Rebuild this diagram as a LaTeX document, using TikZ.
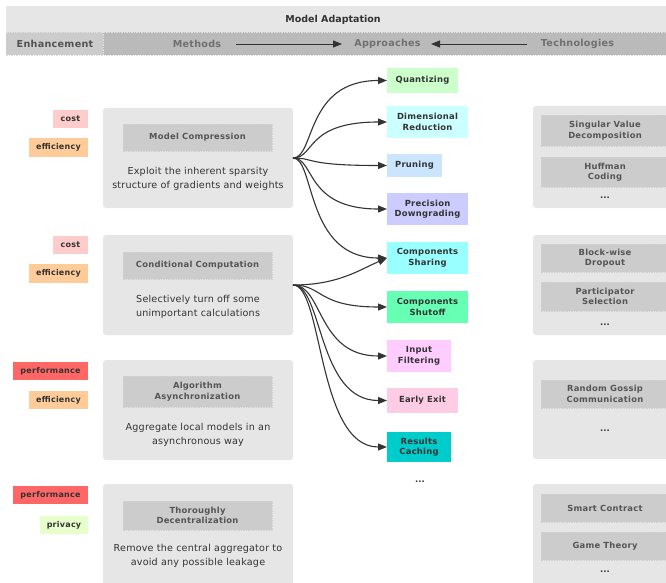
\documentclass[tikz,border=0pt]{standalone}
\usepackage{fontspec}
\setmainfont{DejaVu Sans}
\usetikzlibrary{arrows.meta,calc}
\definecolor{ink}{HTML}{333333}
\definecolor{dim}{HTML}{555555}
\definecolor{panel}{HTML}{E6E6E6}
\definecolor{inner}{HTML}{CCCCCC}
\definecolor{costc}{HTML}{FFCCCC}
\definecolor{effc}{HTML}{FFCC99}
\definecolor{perfc}{HTML}{FF6666}
\definecolor{privc}{HTML}{E6FFCC}
\definecolor{quantc}{HTML}{CCFFCC}
\definecolor{dimrc}{HTML}{CCFFFF}
\definecolor{prunc}{HTML}{CCE5FF}
\definecolor{precc}{HTML}{CCCCFF}
\definecolor{sharc}{HTML}{99FFFF}
\definecolor{shutc}{HTML}{66FFB3}
\definecolor{inpc}{HTML}{FFCCFF}
\definecolor{exitc}{HTML}{FFCCE6}
\definecolor{cachc}{HTML}{00CCCC}
\newcommand{\bsm}{\fontsize{8.4}{10.5}\selectfont\bfseries\addfontfeatures{LetterSpace=3}}
\tikzset{
  every node/.style={inner sep=0pt, outer sep=0pt, text=ink},
  tagbox/.style={rectangle, minimum height=18, font=\fontsize{8}{9}\selectfont\bfseries\addfontfeatures{LetterSpace=3}},
  panelbox/.style={rectangle, rounded corners=3, fill=panel, minimum width=190, minimum height=100},
  titlebox/.style={rectangle, fill=inner, draw=white!82!black, dash pattern=on 1.5pt off 1pt, line width=0.5pt,
     minimum width=149, align=center, text=dim, font=\bsm},
  desc/.style={align=center, font=\fontsize{9.6}{14}\selectfont\addfontfeatures{LetterSpace=2}},
  appbox/.style={rectangle, align=center, font=\bsm},
  techpanel/.style={rectangle, rounded corners=3, fill=panel, minimum width=150},
  techbox/.style={rectangle, fill=inner, draw=white!82!black, dash pattern=on 1.5pt off 1pt, line width=0.5pt,
     minimum width=128, align=center, text=dim, font=\bsm},
  dots/.style={font=\fontsize{8.4}{9}\selectfont\bfseries},
  arr/.style={draw=ink, line width=1.1pt, -{Triangle[length=9pt,width=7pt]}},
  hdr/.style={text=ink!85!white, font=\fontsize{9.6}{11}\selectfont\bfseries\addfontfeatures{LetterSpace=3}}
}
\begin{document}
\begin{tikzpicture}[x=1pt,y=-1pt]
\clip (0,0) rectangle (666,583);
% header
\fill[panel] (6,6) rectangle (670,32);
\node[font=\fontsize{9.5}{11}\selectfont\bfseries] (title) at (333,20) {Model Adaptation};
\fill[white!80!black] (6,32) rectangle (103,55);
\fill[white!73!black] (103,32) rectangle (670,55);
\draw[white!88!black, dash pattern=on 1.5pt off 1pt, line width=0.6pt] (6,32) -- (670,32) (6,55) -- (670,55) (103,32) -- (103,55);
\node[hdr] (henh) at (55,44) {Enhancement};
\node[hdr, text=ink!70!white] (hmet) at (197,44) {Methods};
\node[hdr, text=ink!70!white] (happ) at (387.5,44) {Approaches};
\node[hdr, text=ink!70!white] (htec) at (577.5,44) {Technologies};
\coordinate (h1a) at (236,44);
\coordinate (h1b) at (342,44);
\coordinate (h2a) at (527,44);
\coordinate (h2b) at (431,44);
\draw[arr, line width=0.9pt] (h1a) -- (h1b);
\draw[arr, line width=0.9pt] (h2a) -- (h2b);

% enhancement tags
\node[tagbox, fill=costc, minimum width=35] (c1) at (70.5,119) {cost};
\node[tagbox, fill=effc, minimum width=59, minimum height=19] (e1) at (58.5,147.5) {efficiency};
\node[tagbox, fill=costc, minimum width=35] (c2) at (70.5,245) {cost};
\node[tagbox, fill=effc, minimum width=59, minimum height=19] (e2) at (58.5,273.5) {efficiency};
\node[tagbox, fill=perfc, minimum width=75] (p3) at (50.5,371) {performance};
\node[tagbox, fill=effc, minimum width=59] (e3) at (58.5,400) {efficiency};
\node[tagbox, fill=perfc, minimum width=75] (p4) at (50.5,495) {performance};
\node[tagbox, fill=privc, minimum width=48] (v4) at (64,525) {privacy};

% method panels
\node[panelbox] (m1) at (198,158) {};
\node[titlebox, minimum height=27] (t1) at (197.5,137.5) {Model Compression};
\node[desc] (d1) at (198,179) {Exploit the inherent sparsity\\structure of gradients and weights};
\node[panelbox] (m2) at (198,285) {};
\node[titlebox, minimum height=27] (t2) at (197.5,265.5) {Conditional Computation};
\node[desc] (d2) at (198,307) {Selectively turn off some\\unimportant calculations};
\node[panelbox] (m3) at (198,410) {};
\node[titlebox, minimum height=31] (t3) at (197.5,391.5) {Algorithm\\Asynchronization};
\node[desc] (d3) at (198,434.5) {Aggregate local models in an\\asynchronous way};
\node[panelbox, minimum height=112] (m4) at (198,540) {};
\node[titlebox, minimum height=29] (t4) at (197.5,515.5) {Thoroughly\\Decentralization};
\node[desc] (d4) at (198,556) {Remove the central aggregator to\\avoid any possible leakage};

% approaches
\node[appbox, fill=quantc, minimum width=71, minimum height=25] (a1) at (422.5,80.5) {Quantizing};
\node[appbox, fill=dimrc, minimum width=81, minimum height=32] (a2) at (427.5,122) {Dimensional\\Reduction};
\node[appbox, fill=prunc, minimum width=55, minimum height=23] (a3) at (414.5,165.5) {Pruning};
\node[appbox, fill=precc, minimum width=81, minimum height=32] (a4) at (427.5,209) {Precision\\Downgrading};
\node[appbox, fill=sharc, minimum width=81, minimum height=32] (a5) at (427.5,258) {Components\\Sharing};
\node[appbox, fill=shutc, minimum width=81, minimum height=32] (a6) at (427.5,307) {Components\\Shutoff};
\node[appbox, fill=inpc, minimum width=64, minimum height=32] (a7) at (419,356) {Input\\Filtering};
\node[appbox, fill=exitc, minimum width=71, minimum height=25] (a8) at (422.5,400.5) {Early Exit};
\node[appbox, fill=cachc, minimum width=64, minimum height=30] (a9) at (419,447) {Results\\Caching};
\node[dots] (adots) at (420,482) {...};

% connectors group 1
\foreach \t in {a1,a2,a3,a4,a5}
  \draw[arr] (m1.east) .. controls +(22,0) and +(-82,0) .. (\t.west);
% connectors group 2
\draw[arr] (m2.east) .. controls +(45,0) and +(-28,12) .. (a5.west);
\foreach \t in {a6,a7,a8,a9}
  \draw[arr] (m2.east) .. controls +(30,0) and +(-70,0) .. (\t.west);

% technologies
\node[techpanel, minimum height=102] (g1) at (608,157) {};
\node[techbox, minimum height=31] (s1) at (605,130.5) {Singular Value\\Decomposition};
\node[techbox, minimum height=30] (s2) at (605,172) {Huffman\\Coding};
\node[dots] (g1d) at (605,198) {...};
\node[techpanel, minimum height=100] (g2) at (608,285) {};
\node[techbox, minimum height=28] (s3) at (605,258) {Block-wise\\Dropout};
\node[techbox, minimum height=29] (s4) at (605,296.5) {Participator\\Selection};
\node[dots] (g2d) at (605,325) {...};
\node[techpanel, minimum height=99] (g3) at (608,409.5) {};
\node[techbox, minimum height=28] (s5) at (605,394) {Random Gossip\\Communication};
\node[dots] (g3d) at (605,431) {...};
\node[techpanel, minimum height=112] (g4) at (608,540) {};
\node[techbox, minimum height=28] (s6) at (605,508) {Smart Contract};
\node[techbox, minimum height=28] (s7) at (605,546) {Game Theory};
\node[dots] (g4d) at (605,572) {...};
\end{tikzpicture}
\end{document}
